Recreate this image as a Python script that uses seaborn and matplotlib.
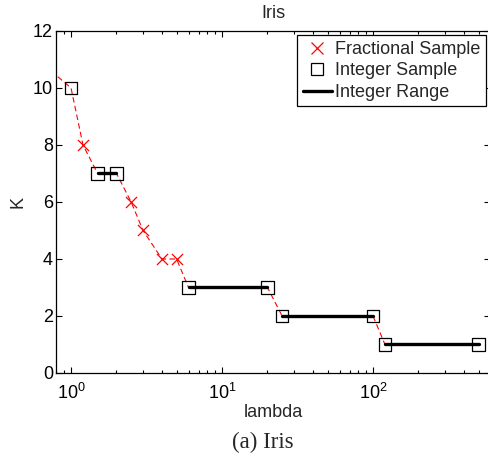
import matplotlib
matplotlib.use("Agg")
import matplotlib.pyplot as plt
import seaborn as sns
import pandas as pd
from matplotlib.lines import Line2D
from matplotlib.ticker import LogLocator

sns.set_style("ticks")
plt.rcParams['font.family'] = ['Liberation Sans', 'DejaVu Sans']
plt.rcParams['mathtext.fontset'] = 'custom'
plt.rcParams['mathtext.rm'] = 'Liberation Sans'
plt.rcParams['mathtext.it'] = 'Liberation Sans'

# fractional samples (red x)
frac_lambda = [1.2, 2.5, 3, 4, 5]
frac_k = [8, 6, 5, 4, 4]

# integer samples (squares)
int_lambda = [1, 1.5, 2, 6, 20, 25, 100, 120, 500]
int_k = [10, 7, 7, 3, 3, 2, 2, 1, 1]

# integer ranges (thick black)
range_start = [1.5, 6, 25, 120]
range_end = [2, 20, 100, 500]
range_k = [7, 3, 2, 1]

# dashed path, starting off the left edge
path_lambda = [0.6, 1, 1.2, 1.5, 2, 2.5, 3, 4, 5, 6, 20, 25, 100, 120, 500]
path_k = [11, 10, 8, 7, 7, 6, 5, 4, 4, 3, 3, 2, 2, 1, 1]

path = pd.DataFrame({'lambda': path_lambda, 'K': path_k})
frac = pd.DataFrame({'lambda': frac_lambda, 'K': frac_k})
ints = pd.DataFrame({'lambda': int_lambda, 'K': int_k})
ranges = pd.DataFrame({
    'lambda': range_start + range_end,
    'K': range_k + range_k,
    'seg': list(range(len(range_k))) * 2,
})

fig = plt.figure(figsize=(4.88, 4.59), dpi=100)
ax = fig.add_axes([0.1156, 0.1874, 0.8895, 0.7451])

sns.lineplot(data=path, x='lambda', y='K', sort=False, estimator=None,
             color='red', lw=0.8, dashes=False, ax=ax, zorder=2)
ax.lines[-1].set_linestyle((0, (5, 3)))
sns.lineplot(data=ranges, x='lambda', y='K', units='seg', estimator=None,
             color='black', lw=2.4, ax=ax, zorder=3)
sns.scatterplot(data=ints, x='lambda', y='K', marker='s', s=80,
                facecolors='none', edgecolor='black', linewidth=0.9,
                ax=ax, zorder=4)
sns.scatterplot(data=frac, x='lambda', y='K', marker='x', s=64,
                color='red', linewidth=0.9, ax=ax, zorder=4)

ax.set_xscale('log')
ax.set_xlim(0.8, 600)
ax.set_ylim(0, 12)
ax.set_yticks([0, 2, 4, 6, 8, 10, 12])
ax.xaxis.set_major_locator(LogLocator(base=10, numticks=10))
ax.xaxis.set_minor_locator(LogLocator(base=10, subs=range(2, 10), numticks=20))

for s in ax.spines.values():
    s.set_visible(True)
    s.set_color('black')
    s.set_linewidth(0.9)
ax.tick_params(which='both', direction='in', top=True, right=True,
               labelsize=13, colors='black', width=0.8)
ax.tick_params(which='major', length=4)
ax.tick_params(which='minor', length=2.5)
ax.tick_params(axis='x', which='major', pad=7)
ax.tick_params(axis='y', which='major', pad=2.5)

ax.set_xlabel('lambda', fontsize=13, labelpad=1)
ax.set_ylabel('K', fontsize=13, labelpad=4.5)
ax.set_title('Iris', fontsize=13, pad=9)

handles = [
    Line2D([], [], ls='none', marker='x', color='red', ms=8, mew=0.9),
    Line2D([], [], ls='none', marker='s', mfc='none', mec='black', ms=8.5, mew=0.9),
    Line2D([], [], color='black', lw=2.4),
]
leg = ax.legend(handles, ['Fractional Sample', 'Integer Sample', 'Integer Range'],
                loc='upper right', fontsize=13, fancybox=False, framealpha=1,
                edgecolor='black', borderaxespad=0.25, handlelength=1.6,
                handletextpad=0.2, labelspacing=0.25, borderpad=0.3)
leg.get_frame().set_linewidth(0.9)

fig.text(0.539, 0.012, '(a) Iris', fontsize=16.5, family='Liberation Serif',
         ha='center', va='bottom')

fig.savefig('out.png', dpi=100)
